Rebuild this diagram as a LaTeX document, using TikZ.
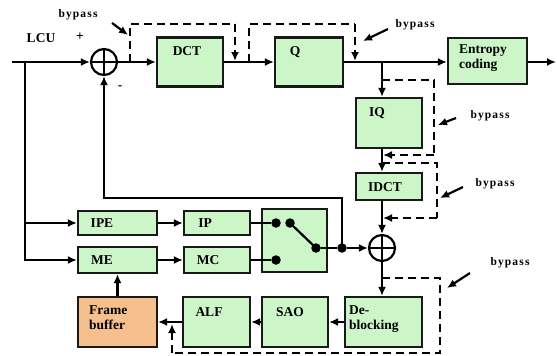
\documentclass[tikz,border=0pt]{standalone}
\usepackage{fontspec}
\setmainfont{Liberation Serif}
\usetikzlibrary{arrows.meta}
\definecolor{boxgreen}{RGB}{204,245,200}
\definecolor{boxorange}{RGB}{246,192,142}
\begin{document}
\begin{tikzpicture}[x=1pt,y=-1pt,
 box/.style={draw=black!90,line width=2.2pt,fill=boxgreen,inner sep=0pt},
 lbl/.style={font=\fontsize{13.5}{15}\selectfont\bfseries,inner sep=0pt,align=left},
 byp/.style={font=\fontsize{11.5}{12}\selectfont\bfseries\addfontfeature{LetterSpace=10},inner sep=0pt},
 conn/.style={line width=2.2pt,-{Latex[length=9pt,width=8pt]}},
 wire/.style={line width=2.2pt},
 bypline/.style={line width=2.2pt,dash pattern=on 8pt off 5pt},
 adder/.style={circle,draw,line width=2.2pt,minimum size=26pt,inner sep=0pt,
   path picture={\draw[line width=1.8pt] (path picture bounding box.north) -- (path picture bounding box.south)
     (path picture bounding box.west) -- (path picture bounding box.east);}},
 dot/.style={circle,fill=black,minimum size=9.5pt,inner sep=0pt}
]
\useasboundingbox (0,0) rectangle (557,356);

% boxes
\node[adder] (add1) at (104,62) {};
\node[box,minimum width=66pt,minimum height=49pt] (dct) at (190,62) {};
\node[box,minimum width=68pt,minimum height=49pt] (q) at (309,62) {};
\node[box,minimum width=79pt,minimum height=46pt] (ent) at (487.5,61) {};
\node[box,minimum width=66pt,minimum height=50pt] (iq) at (389,123) {};
\node[box,minimum width=66pt,minimum height=27pt] (idct) at (389,186.5) {};
\node[adder] (add2) at (382,248) {};
\node[box,minimum width=77pt,minimum height=50pt] (deb) at (383.5,322) {};
\node[box,minimum width=66pt,minimum height=50pt] (sao) at (295,322) {};
\node[box,minimum width=67pt,minimum height=50pt] (alf) at (216.5,322) {};
\node[box,fill=boxorange,minimum width=79pt,minimum height=50pt] (fb) at (117.5,322) {};
\node[box,minimum width=79pt,minimum height=24pt] (ipe) at (117.5,223) {};
\node[box,minimum width=79pt,minimum height=26pt] (me) at (117.5,260) {};
\node[box,minimum width=66pt,minimum height=24pt] (ip) at (217,223) {};
\node[box,minimum width=66pt,minimum height=26pt] (mc) at (217,260) {};
\node[box,minimum width=65pt,minimum height=63pt] (sw) at (294.5,240.5) {};

% labels
\node[lbl] (tlcu) at (41,38) {LCU};
\node[lbl] (tplus) at (80,37) {+};
\node[lbl] (tminus) at (120,88) {-};
\node[lbl] (tdct) at (187,51) {DCT};
\node[lbl] (tq) at (295,52) {Q};
\node[lbl,anchor=north west] (tent) at (459,44) {Entropy\\coding};
\node[lbl] (tiq) at (377,113) {IQ};
\node[lbl] (tidct) at (385,187) {IDCT};
\node[lbl] (tipe) at (102,223) {IPE};
\node[lbl] (tme) at (102,260) {ME};
\node[lbl] (tip) at (205,223) {IP};
\node[lbl] (tmc) at (208,260) {MC};
\node[lbl,anchor=north west] (tfb) at (89,305) {Frame\\buffer};
\node[lbl] (talf) at (209,312) {ALF};
\node[lbl] (tsao) at (290,312) {SAO};
\node[lbl,anchor=north west] (tdeb) at (349,305) {De-\\blocking};

% switch dots
\node[dot] (d1) at (276,223) {};
\node[dot] (d2) at (290,223) {};
\node[dot] (d3) at (316,248) {};
\node[dot] (d4) at (276,260) {};
\node[dot] (j) at (342,248) {};

% main path
\coordinate (in) at (12,62);
\coordinate (lb) at (25,62);
\coordinate (br) at (382,62);
\coordinate (out) at (556,62);
\draw[conn] (in) -- (add1);
\draw[conn] (add1) -- (dct);
\draw[conn] (dct) -- (q);
\draw[conn] (q.east) -- (q.east -| ent.west);
\draw[conn] (ent.east |- q.east) -- (out);
\draw[conn] (br) -- (br |- iq.north);
\draw[conn] (br |- iq.south) -- (br |- idct.north);
\draw[conn] (br |- idct.south) -- (add2);
\draw[conn] (add2) -- (add2 |- deb.north);
\draw[conn] (deb) -- (sao);
\draw[conn] (sao) -- (alf);
\draw[conn] (alf) -- (fb);
\draw[conn] (fb) -- (me);
\draw[conn] (lb) |- (me);
\draw[conn] (lb |- ipe) -- (ipe);
\draw[conn] (ipe) -- (ip);
\draw[conn] (me) -- (mc);
\draw[wire] (ip) -- (d1);
\draw[wire] (mc) -- (d4);
\draw[wire] (d2.center) -- (d3.center);
\draw[wire] (d3) -- (j);
\draw[conn] (j) -- (add2);
\coordinate (fbk) at (342,198);
\draw[conn] (j.center) -- (fbk) -| (add1);

% bypass lines
\coordinate (b1s) at (130,62); \coordinate (b1e) at (235,61);
\draw[bypline] (b1s) -- (130,24) -- (235,24);
\draw[conn,bypline] (235,24) -- (b1e);
\coordinate (b2s) at (249,62); \coordinate (b2e) at (355,61);
\draw[bypline] (b2s) -- (249,24) -- (355,24);
\draw[conn,bypline] (355,24) -- (b2e);
\coordinate (b3s) at (382,80); \coordinate (b3e) at (383,155);
\draw[bypline] (b3s) -- (434,80) -- (434,155);
\draw[conn,bypline] (434,155) -- (b3e);
\coordinate (b4s) at (382,163); \coordinate (b4e) at (383,218);
\draw[bypline] (b4s) -- (437,163) -- (437,218);
\draw[conn,bypline] (437,218) -- (b4e);
\coordinate (b5s) at (382,278); \coordinate (b5e) at (172,324);
\draw[bypline] (b5s) -- (440,278) -- (440,353) -- (172,353);
\draw[conn,bypline] (172,353) -- (b5e);

% bypass labels
\node[byp] (l1) at (78,15) {bypass};
\draw[conn] (112,23) -- (128,35);
\node[byp] (l2) at (415,25) {bypass};
\draw[conn] (388,29) -- (363,41);
\node[byp] (l3) at (490,116) {bypass};
\draw[conn] (456,118) -- (438,125);
\node[byp] (l4) at (495,184) {bypass};
\draw[conn] (463,187) -- (440,198);
\node[byp] (l5) at (510,263) {bypass};
\draw[conn] (470,273) -- (447,288);
\end{tikzpicture}
\end{document}
